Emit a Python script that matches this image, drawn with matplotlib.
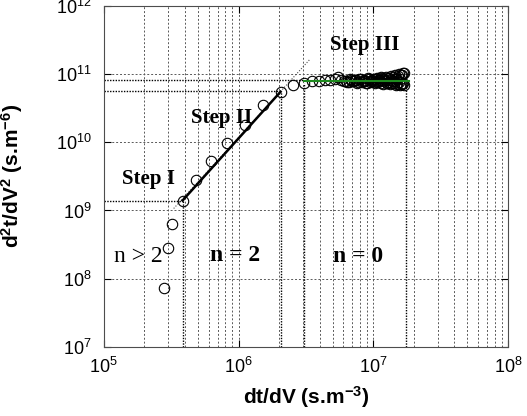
import numpy as np
import matplotlib
matplotlib.use("Agg")
import matplotlib.pyplot as plt

plt.rcParams['font.family'] = ['Liberation Sans', 'DejaVu Sans']
plt.rcParams['mathtext.fontset'] = 'custom'
plt.rcParams['mathtext.rm'] = 'Liberation Sans'
plt.rcParams['mathtext.bf'] = 'Liberation Sans:bold'
plt.rcParams['mathtext.it'] = 'Liberation Sans:italic'

# measured points (dt/dV, d2t/dV2)
x_early = [2.8e5, 2.97e5, 3.22e5, 3.84e5, 4.8e5, 6.2e5, 8.2e5, 1.11e6, 1.51e6, 2.05e6, 2.54e6]
y_early = [7.2e7, 2.8e8, 6.3e8, 1.4e9, 2.8e9, 5.3e9, 9.7e9, 1.8e10, 3.5e10, 5.5e10, 6.8e10]

# step III cluster, x in 1e6, y in 1e10
x_late = [3.05, 3.5, 3.95, 4.4, 4.8, 5.2, 5.5, 5.8, 6.1, 6.4, 6.7, 7.0, 7.3, 7.6, 7.9,
          8.2, 8.5, 8.8, 9.1, 9.4, 9.7, 10.0, 10.3, 10.6, 10.9, 11.2, 11.5, 11.8, 12.1,
          12.4, 12.7, 13.0, 13.3, 13.6, 13.9, 14.2, 14.5, 14.8, 15.1, 15.4, 15.7, 16.0,
          16.3, 16.6, 16.9,
          6.25, 6.55, 6.85, 7.15, 7.45, 7.75, 8.05, 8.35, 8.65, 8.95, 9.25, 9.55, 9.85,
          10.15, 10.45, 10.75, 11.05, 11.35, 11.65, 11.95, 12.25, 12.55, 12.85, 13.15,
          13.45, 13.75, 14.05, 14.35, 14.65, 14.95, 15.25, 15.55, 15.85, 16.15, 16.45,
          16.75, 17.0]
y_late = [7.4, 7.8, 8.0, 8.1, 8.3, 8.6, 9.2, 8.2, 7.9, 7.6, 8.4, 7.8, 8.1, 7.5, 8.6,
          7.7, 8.3, 7.4, 8.8, 7.6, 8.0, 8.5, 7.3, 8.9, 7.7, 8.2, 9.0, 7.2, 8.4, 9.2,
          7.5, 8.7, 7.1, 9.4, 8.0, 7.3, 9.6, 7.0, 8.5, 10.0, 6.9, 9.8, 7.2, 10.5, 6.8,
          8.0, 7.7, 8.3, 7.9, 8.1, 7.6, 8.5, 7.8, 8.0, 7.5, 8.4, 7.9, 8.2,
          7.6, 8.6, 7.8, 8.1, 7.4, 8.7, 7.9, 8.3, 7.5, 8.8, 7.7,
          8.2, 7.3, 9.0, 7.8, 8.4, 7.2, 9.3, 7.6, 8.6, 7.1, 9.7,
          7.4, 10.2]
x_late = [v * 1e6 for v in x_late]
y_late = [v * 1e10 for v in y_late]

# step II power-law fit and step III plateau
fit_x = [3.84e5, 2.05e6]
fit_y = [1.4e9, 5.5e10]
fit_ext_x = [3.3e5, 3.4e6]
fit_ext_y = [1.07e9, 1.66e11]
plateau_x = [3.05e6, 1.84e7]
plateau_y = [7.9e10, 7.9e10]

# step boundaries
v_lines = [(3.84e5, 1.4e9), (2.05e6, 5.5e10), (3.05e6, 7.4e10), (1.75e7, 6.8e10)]
h_lines = [(1.4e9, 3.84e5), (5.7e10, 2.05e6), (8.2e10, 3.05e6)]

fig = plt.figure(figsize=(5.27, 4.16), dpi=100)
ax = fig.add_axes([0.197, 0.166, 0.767, 0.82])
ax.set_xscale('log')
ax.set_yscale('log')
ax.set_xlim(1e5, 1e8)
ax.set_ylim(1e7, 1e12)

ax.grid(True, which='major', axis='both', color='0.35', ls=(0, (2, 2)), lw=0.7)
ax.grid(True, which='minor', axis='x', color='0.35', ls=(0, (2, 2)), lw=0.7)

for xv, yt in v_lines:
    ax.plot([xv, xv], [1e7, yt], color='k', ls=(0, (1, 1)), lw=1.0)
for yv, xr in h_lines:
    ax.plot([1e5, xr], [yv, yv], color='k', ls=(0, (1, 1)), lw=1.0)

ax.plot(fit_ext_x, fit_ext_y, color='0.3', ls=(0, (1, 1.5)), lw=0.8)
ax.plot(x_early, y_early, 'o', mfc='none', mec='k', ms=7.5, mew=0.8)
ax.plot(x_late, y_late, 'o', mfc='none', mec='k', ms=7.5, mew=0.8)
ax.plot(fit_x, fit_y, color='k', lw=1.8)
ax.plot(plateau_x, plateau_y, color='#1e8a1e', lw=1.5)

serif = ['Liberation Serif', 'DejaVu Serif']
ax.text(8.7e6, 2.7e11, 'Step III', family=serif, weight='bold', fontsize=15, ha='center', va='center')
ax.text(7.5e5, 2.3e10, 'Step II', family=serif, weight='bold', fontsize=15, ha='center', va='center')
ax.text(2.16e5, 2.9e9, 'Step I', family=serif, weight='bold', fontsize=15, ha='center', va='center')
ax.text(1.79e5, 2.1e8, 'n > 2', family=serif, fontsize=17, ha='center', va='center')
ax.text(9.5e5, 2.2e8, 'n = 2', family=serif, weight='bold', fontsize=17, ha='center', va='center')
ax.text(7.7e6, 2.1e8, 'n = 0', family=serif, weight='bold', fontsize=17, ha='center', va='center')

ax.tick_params(which='both', direction='in', top=True, right=True, labelsize=13)
ax.tick_params(axis='x', pad=7)
ax.tick_params(axis='y', pad=9)
ax.tick_params(which='minor', length=0)
ax.tick_params(which='major', length=5)
for s in ax.spines.values():
    s.set_color('0.3')

ax.set_xlabel(r'dt/dV (s.m$^\mathbf{-3}$)', fontsize=15, weight='bold', labelpad=5)
ax.set_ylabel(r'd$^\mathbf{2}$t/dV$^\mathbf{2}$ (s.m$^\mathbf{-6}$)', fontsize=15, weight='bold', labelpad=22)

fig.savefig('out.png', dpi=100)
